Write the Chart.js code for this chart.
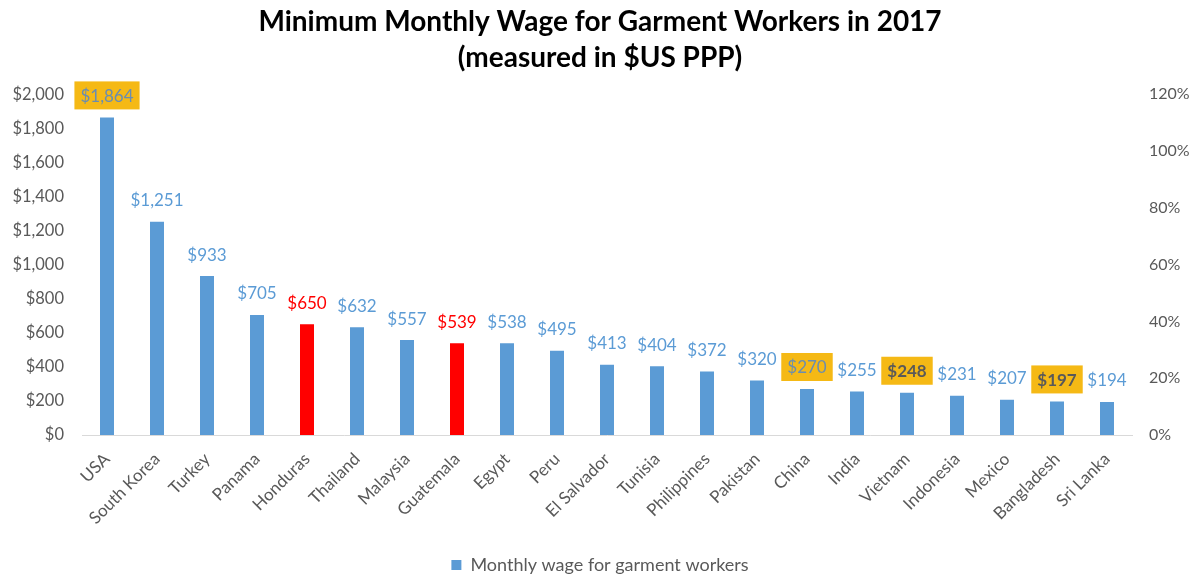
<!DOCTYPE html>
<html><head><meta charset="utf-8">
<script src="https://cdn.jsdelivr.net/npm/chart.js@4/dist/chart.umd.min.js"></script>
<style>html,body{margin:0;padding:0;background:#fff}#wrap{width:1202px;height:575px}</style>
</head><body><div id="wrap"><canvas id="c"></canvas></div>
<script>
const categories = ['USA','South Korea','Turkey','Panama','Honduras','Thailand','Malaysia','Guatemala','Egypt','Peru','El Salvador','Tunisia','Philippines','Pakistan','China','India','Vietnam','Indonesia','Mexico','Bangladesh','Sri Lanka'];
const wages = [1864,1251,933,705,650,632,557,539,538,495,413,404,372,320,270,255,248,231,207,197,194];
const leftTicks = [0,200,400,600,800,1000,1200,1400,1600,1800,2000];
const rightTicks = [0,0.2,0.4,0.6,0.8,1.0,1.2];
const redNames = ['Honduras','Guatemala'];
const boxedNames = ['USA','China','Vietnam','Bangladesh'];
const boldBoxedNames = ['Vietnam','Bangladesh'];

const BLUE = '#5B9BD5', RED = '#FF0000', GOLD = '#F5B915', GRAY = '#595959';
const FONT = 'Lato, "Open Sans", sans-serif';

const fmt = v => '$' + v.toLocaleString('en-US');

const labelPlugin = {
  id: 'barLabels',
  afterDatasetsDraw(chart) {
    const ctx = chart.ctx;
    const meta = chart.getDatasetMeta(0);
    meta.data.forEach((bar, i) => {
      const name = categories[i];
      const txt = fmt(wages[i]);
      const bold = boldBoxedNames.includes(name);
      ctx.save();
      ctx.font = (bold ? 'bold ' : '') + '17px ' + FONT;
      ctx.textAlign = 'center';
      ctx.textBaseline = 'middle';
      const cy = bar.y - 22;
      if (boxedNames.includes(name)) {
        const w = ctx.measureText(txt).width + 12;
        ctx.fillStyle = GOLD;
        ctx.fillRect(bar.x - w / 2, cy - 14, w, 28);
      }
      ctx.fillStyle = redNames.includes(name) ? RED : (bold ? GRAY : (boxedNames.includes(name) ? '#6A8DB0' : BLUE));
      ctx.fillText(txt, bar.x, cy + 1);
      ctx.restore();
    });
  }
};

new Chart(document.getElementById('c'), {
  type: 'bar',
  data: {
    labels: categories,
    datasets: [{
      label: 'Monthly wage for garment workers',
      data: wages,
      backgroundColor: categories.map(n => redNames.includes(n) ? RED : BLUE),
      barPercentage: 0.56,
      categoryPercentage: 0.5,
      yAxisID: 'y'
    }]
  },
  options: {
    responsive: true,
    maintainAspectRatio: false,
    animation: false,
    layout: { padding: { left: 10, right: 12, top: 0, bottom: -9 } },
    plugins: {
      title: {
        display: true,
        text: ['Minimum Monthly Wage for Garment Workers in 2017', '(measured in $US PPP)'],
        font: { family: FONT, size: 28, weight: 'bold', lineHeight: 1.29 },
        color: '#000',
        padding: { top: 4, bottom: 18 }
      },
      legend: {
        position: 'bottom',
        labels: {
          font: { family: FONT, size: 18 },
          color: GRAY,
          boxWidth: 10, boxHeight: 10,
          padding: 10,
          generateLabels: () => [{ text: 'Monthly wage for garment workers', fillStyle: BLUE, strokeStyle: BLUE, lineWidth: 0, fontColor: GRAY }]
        }
      },
      tooltip: { enabled: false }
    },
    scales: {
      x: {
        grid: { display: false, drawTicks: false },
        border: { color: '#D9D9D9', width: 1 },
        ticks: { font: { family: FONT, size: 17 }, color: GRAY, minRotation: 45, maxRotation: 45, padding: 14 },
        afterFit: s => { s.paddingLeft = 0; s.paddingRight = 0; s.height = 111; }
      },
      y: {
        position: 'left',
        min: 0, max: 2000,
        afterBuildTicks: s => { s.ticks = leftTicks.map(v => ({ value: v })); },
        grid: { display: false, drawTicks: false },
        border: { display: false },
        ticks: { font: { family: FONT, size: 16.5 }, color: GRAY, padding: 18, callback: v => fmt(v) },
        afterFit: s => { s.width = 72; }
      },
      y2: {
        position: 'right',
        min: 0, max: 1.2,
        afterBuildTicks: s => { s.ticks = rightTicks.map(v => ({ value: v })); },
        grid: { display: false, drawTicks: false },
        border: { display: false },
        ticks: { font: { family: FONT, size: 16 }, color: GRAY, padding: 17, callback: v => Math.round(v * 100) + '%' },
        afterFit: s => { s.width = 58; }
      }
    }
  },
  plugins: [labelPlugin]
});
</script></body></html>
